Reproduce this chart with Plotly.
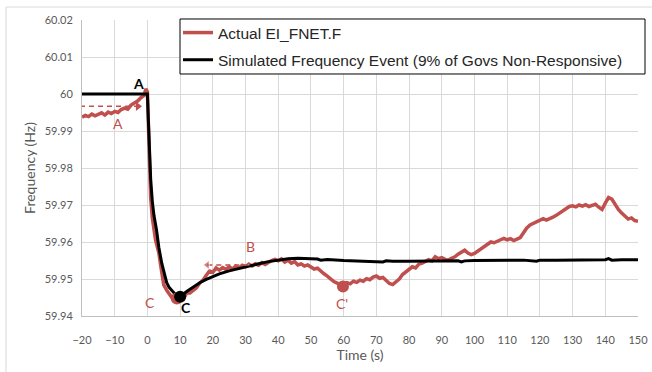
import plotly.graph_objects as go

# ---------------- data ----------------
actual_t = [-20, -19, -18, -17, -16, -15, -14, -13, -12, -11, -10, -9, -8, -7, -6, -5, -4, -3, -2, -1,
            -0.5, 0, 0.5, 1, 1.5, 2, 2.5, 3, 3.5, 4, 4.5, 5, 6, 7, 8, 9, 10, 11, 12,
            13, 14, 15, 16, 17, 18, 19, 20, 21, 22, 23, 24, 25, 26, 27, 28, 29, 30,
            31, 32, 33, 34, 35, 36, 37, 38, 39, 40, 41, 42, 43, 44, 45, 46, 47, 48, 49, 50,
            51, 52, 53, 54, 55, 56, 57, 58, 59, 60, 61, 62, 63, 64, 65, 66, 67, 68, 69, 70,
            71, 72, 73, 74, 75, 76, 77, 78, 79, 80, 81, 82, 83, 84, 85, 86, 87, 88, 89, 90,
            91, 92, 93, 94, 95, 96, 97, 98, 99, 100, 101, 102, 103, 104, 105, 106, 107, 108, 109, 110,
            111, 112, 113, 114, 115, 116, 117, 118, 119, 120, 121, 122, 123, 124, 125, 126, 127, 128, 129, 130,
            131, 132, 133, 134, 135, 136, 137, 138, 139, 140, 141, 142, 143, 144, 145, 146, 147, 148, 149, 150]
actual_f = [59.9937, 59.9942, 59.9939, 59.9946, 59.9941, 59.9944, 59.9949, 59.9943, 59.9951, 59.9947,
            59.9953, 59.9950, 59.9958, 59.9962, 59.9959, 59.9970, 59.9975, 59.9981, 59.9990, 59.9996,
            60.0014, 60.0006, 59.9860, 59.9720, 59.9665, 59.9628, 59.9605, 59.9588, 59.9570, 59.9540,
            59.9505, 59.9484, 59.9468, 59.9457, 59.9443, 59.9447, 59.9451, 59.9446, 59.9462,
            59.9462, 59.9470, 59.9476, 59.9489, 59.9497, 59.9510, 59.9522, 59.9518, 59.9530, 59.9524,
            59.9531, 59.9526, 59.9533, 59.9527, 59.9535, 59.9530, 59.9537, 59.9533,
            59.9540, 59.9535, 59.9541, 59.9537, 59.9544, 59.9539, 59.9546, 59.9550, 59.9553, 59.9549,
            59.9554, 59.9546, 59.9551, 59.9543, 59.9547, 59.9538, 59.9541, 59.9535, 59.9538, 59.9531,
            59.9527, 59.9529, 59.9520, 59.9514, 59.9508, 59.9500, 59.9493, 59.9489, 59.9484, 59.9486,
            59.9490, 59.9487, 59.9494, 59.9491, 59.9497, 59.9494, 59.9501, 59.9498, 59.9505, 59.9508,
            59.9502, 59.9504, 59.9496, 59.9488, 59.9485, 59.9492, 59.9500, 59.9512, 59.9520, 59.9527,
            59.9533, 59.9530, 59.9540, 59.9543, 59.9547, 59.9552, 59.9549, 59.9560, 59.9555, 59.9558,
            59.9553, 59.9551, 59.9556, 59.9560, 59.9567, 59.9572, 59.9578, 59.9570, 59.9566, 59.9569,
            59.9575, 59.9583, 59.9588, 59.9595, 59.9600, 59.9598, 59.9603, 59.9606, 59.9610, 59.9606,
            59.9609, 59.9604, 59.9608, 59.9612, 59.9625, 59.9638, 59.9646, 59.9650, 59.9655, 59.9658,
            59.9663, 59.9659, 59.9662, 59.9667, 59.9672, 59.9678, 59.9683, 59.9689, 59.9696, 59.9698,
            59.9695, 59.9700, 59.9697, 59.9701, 59.9696, 59.9699, 59.9702, 59.9694, 59.9688, 59.9705,
            59.9720, 59.9716, 59.9700, 59.9688, 59.9678, 59.9670, 59.9662, 59.9665, 59.9658, 59.9656]

sim_t = [-20, 0, 0.2, 0.6, 1.0, 1.5, 2.0, 2.8, 3.5, 4.4, 5.2, 5.9, 6.6, 7.4, 8.5, 9.4, 10.5, 12, 14, 16,
         18, 20, 22, 25, 28, 31, 34, 37, 40, 43, 46, 50, 52, 53, 55, 60, 65, 70, 72, 73,
         75, 80, 85, 90, 95, 96, 97, 100, 105, 110, 115, 119, 120, 125, 130, 135, 140, 141, 142, 145, 150]
sim_f = [60.0, 60.0, 59.995, 59.985, 59.977, 59.971, 59.9672, 59.9632, 59.9585, 59.9542,
         59.9512, 59.9490, 59.9478, 59.9469, 59.9459, 59.9453, 59.9456, 59.9466, 59.9479, 59.9490,
         59.9499, 59.9507, 59.9514, 59.9522, 59.9529, 59.9535, 59.9541, 59.9547, 59.9552, 59.9555,
         59.9556, 59.9555, 59.9554, 59.9551, 59.9553, 59.9550, 59.9549, 59.9548, 59.9546, 59.9549,
         59.9548, 59.9548, 59.9549, 59.9550, 59.9549, 59.9546, 59.9549, 59.9550, 59.9550, 59.9550,
         59.9551, 59.9548, 59.9551, 59.9551, 59.9551, 59.9551, 59.9552, 59.9555, 59.9551, 59.9552, 59.9552]

x_ticks = [-20, -10, 0, 10, 20, 30, 40, 50, 60, 70, 80, 90, 100, 110, 120, 130, 140, 150]
y_ticks = [59.94, 59.95, 59.96, 59.97, 59.98, 59.99, 60.0, 60.01, 60.02]
y_tick_text = ["59.94", "59.95", "59.96", "59.97", "59.98", "59.99", "60", "60.01", "60.02"]

# annotation points
pt_C_actual = (9.0, 59.9447)
pt_C_sim = (10.0, 59.9452)
pt_Cp = (59.8, 59.9480)
arrowA_t = [-20.6, -2.9]
arrowA_f = [59.99667, 59.99667]
arrowB_t = [18.3, 31.0]
arrowB_f = [59.9538, 59.9538]

RED = "#c0504d"
TXT = "#595959"

fig = go.Figure()
fig.add_trace(go.Scatter(x=actual_t, y=actual_f, mode="lines", name="Actual EI_FNET.F",
                         line=dict(color=RED, width=3.5), legendgroup="a"))
fig.add_trace(go.Scatter(x=sim_t, y=sim_f, mode="lines",
                         name="Simulated Frequency Event (9% of Govs Non-Responsive)",
                         line=dict(color="black", width=3), legendgroup="b"))

# dashed arrows
fig.add_trace(go.Scatter(x=arrowA_t, y=arrowA_f, mode="lines+markers", showlegend=False,
                         line=dict(color=RED, width=1.5, dash="5px,4px"),
                         marker=dict(symbol=["triangle-left", "triangle-right"], size=8, color=RED),
                         cliponaxis=False, hoverinfo="skip"))
fig.add_trace(go.Scatter(x=arrowB_t, y=arrowB_f, mode="lines+markers", showlegend=False,
                         line=dict(color=RED, width=1.5, dash="5px,4px"),
                         marker=dict(symbol=["triangle-left", "line-ew"], size=[8, 1], color=RED),
                         hoverinfo="skip"))
# dots
fig.add_trace(go.Scatter(x=[pt_C_actual[0], pt_Cp[0]], y=[pt_C_actual[1], pt_Cp[1]], mode="markers",
                         showlegend=False, marker=dict(size=12, color=RED), hoverinfo="skip"))
fig.add_trace(go.Scatter(x=[pt_C_sim[0]], y=[pt_C_sim[1]], mode="markers",
                         showlegend=False, marker=dict(size=12, color="black"), hoverinfo="skip"))

labels = [
    ("A", -2.6, 60.0028, "black", True),
    ("A", -9.0, 59.9919, RED, False),
    ("B", 31.4, 59.9587, RED, False),
    ("C", 0.8, 59.9436, RED, False),
    ("C", 11.8, 59.9423, "black", True),
    ("C'", 59.4, 59.9434, RED, False),
]
for txt, x, y, col, bold in labels:
    fig.add_annotation(x=x, y=y, text=f"<b>{txt}</b>" if bold else txt, showarrow=False,
                       font=dict(family="Lato", size=14, color=col))

# outer frame (top & left edges visible)
fig.add_shape(type="line", xref="paper", yref="paper", x0=-0.1367, x1=1.03, y0=1.0439, y1=1.0439,
              line=dict(color="#d9d9d9", width=1))
fig.add_shape(type="line", xref="paper", yref="paper", x0=-0.1367, x1=-0.1367, y0=1.0439, y1=-0.19,
              line=dict(color="#d9d9d9", width=1))
# legend box (px 180..645 x 19..74)
fig.add_shape(type="rect", xref="paper", yref="paper", x0=0.17626, x1=1.01259, y0=0.81757, y1=1.00338,
              line=dict(color="black", width=1), fillcolor="white", layer="above")

fig.update_layout(
    width=652, height=372,
    margin=dict(l=82, r=14, t=20, b=56, autoexpand=False),
    paper_bgcolor="white", plot_bgcolor="white",
    font=dict(family="Lato", color=TXT),
    legend=dict(x=0.1727, y=1.0135, xanchor="left", yanchor="top",
                bgcolor="rgba(0,0,0,0)", borderwidth=0,
                font=dict(family="Liberation Sans", size=15.5, color="#262626"),
                tracegroupgap=4, traceorder="grouped"),
    xaxis=dict(range=[-20, 150], tickvals=x_ticks, showgrid=True, gridcolor="#d9d9d9", gridwidth=1,
               showline=True, linecolor="#bfbfbf", linewidth=1, ticks="", zeroline=False,
               automargin=False, ticklabelstandoff=14,
               tickfont=dict(family="Lato", size=11, color=TXT),
               title=dict(text="Time (s)", font=dict(family="Lato", size=14, color=TXT), standoff=2)),
    yaxis=dict(range=[59.94, 60.02], tickvals=y_ticks, ticktext=y_tick_text, showgrid=True,
               gridcolor="#d9d9d9", gridwidth=1, showline=True, linecolor="#bfbfbf", linewidth=1,
               ticks="", zeroline=False, automargin=False, ticklabelstandoff=6,
               tickfont=dict(family="Lato", size=11, color=TXT),
               title=dict(text="Frequency (Hz)", font=dict(family="Lato", size=14, color=TXT), standoff=5)),
)

fig.write_html("out.html")
